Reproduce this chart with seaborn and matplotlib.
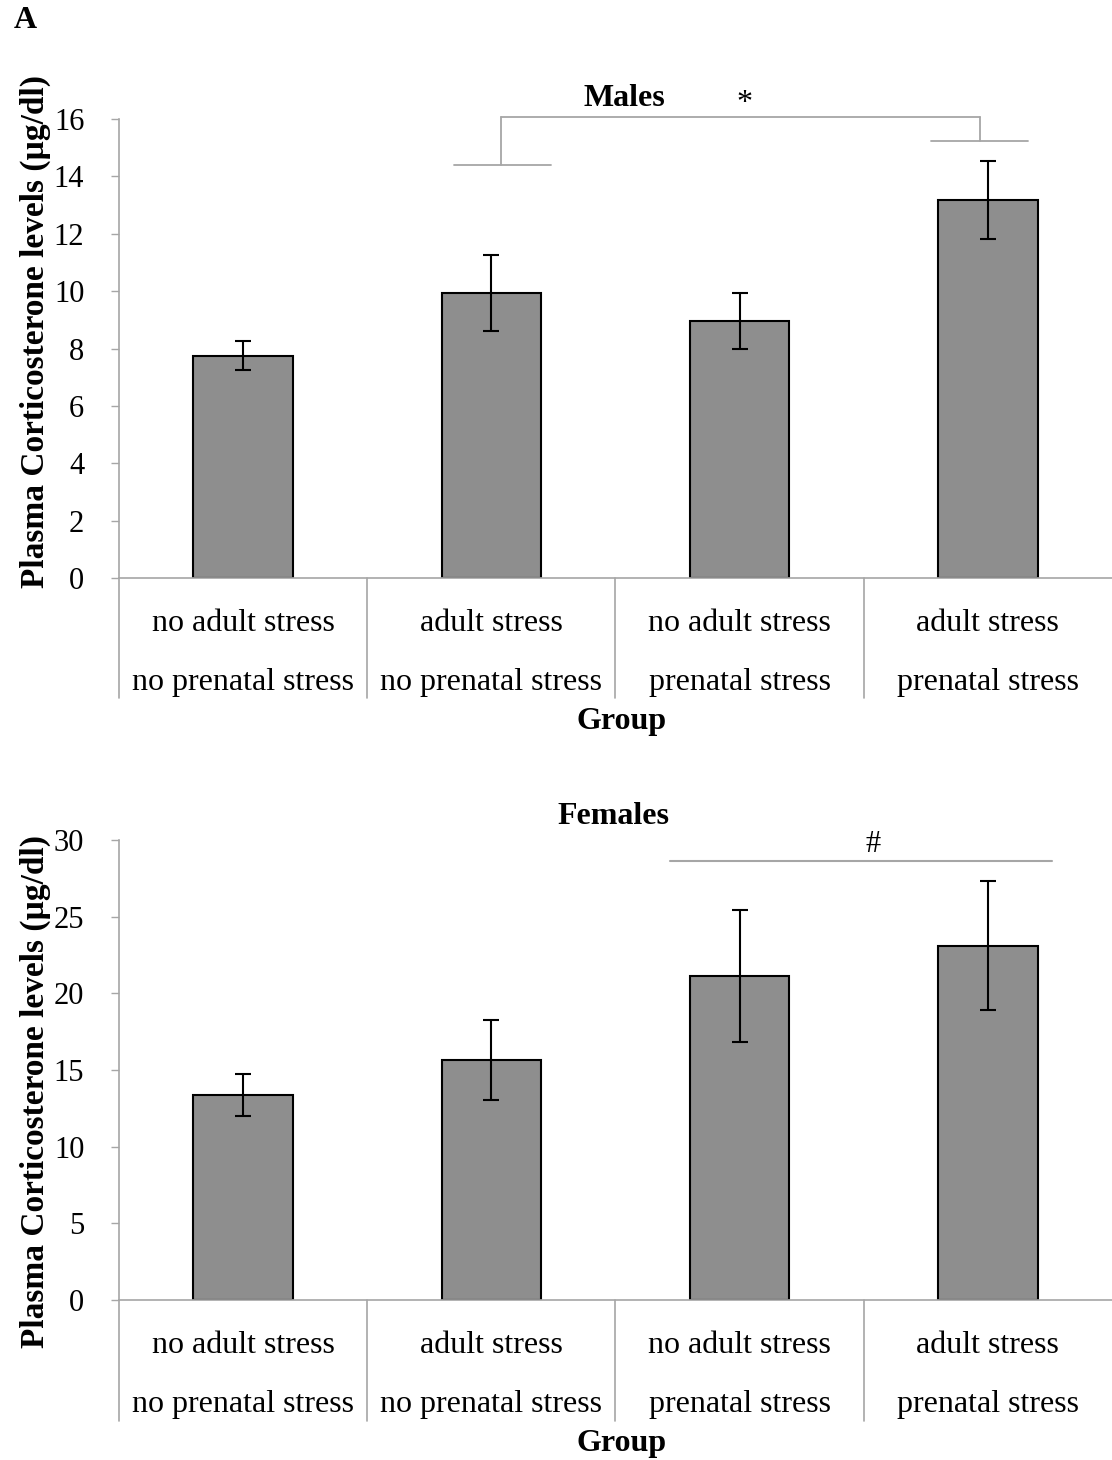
import matplotlib
matplotlib.use("Agg")
import matplotlib.pyplot as plt
import matplotlib.transforms as mtransforms
import seaborn as sns
import pandas as pd

# group labels (two rows under each bar)
adult = ["no adult stress", "adult stress", "no adult stress", "adult stress"]
prenatal = ["no prenatal stress", "no prenatal stress", "prenatal stress", "prenatal stress"]
groups = [a + "\n" + p for a, p in zip(adult, prenatal)]

# plasma corticosterone, mean and SEM
males_mean = [7.75, 9.93, 8.95, 13.18]
males_sem = [0.50, 1.33, 0.97, 1.37]
females_mean = [13.37, 15.65, 21.10, 23.10]
females_sem = [1.37, 2.60, 4.30, 4.20]

# significance marks
males_bracket = [14.4, 16.07, 15.23]   # left arm, top, right arm
females_line = 28.6

sns.set_theme(style="white")
plt.rcParams["font.family"] = ["Liberation Serif", "DejaVu Serif"]
plt.rcParams["text.color"] = "black"
plt.rcParams["axes.labelcolor"] = "black"

GRAY_AX = "#a6a6a6"
BAR = "#8e8e8e"


def draw_panel(ax, means, sems, ymax, ystep, ylab_y):
    df = pd.DataFrame({"group": groups, "value": means})
    sns.barplot(data=df, x="group", y="value", color=BAR, width=0.4,
                edgecolor="black", linewidth=1.5, saturation=1,
                errorbar=None, ax=ax)
    ax.errorbar(range(len(means)), means, yerr=sems, fmt="none",
                ecolor="black", elinewidth=1.5, capsize=5.6, capthick=1.5)
    ax.set_xlim(-0.5, 3.5)
    ax.set_ylim(0, ymax)
    ax.set_yticks(range(0, ymax + 1, ystep))
    ax.set_xticks(range(len(groups)))
    ax.set_xticklabels(groups, linespacing=2.4)
    ax.tick_params(axis="y", labelsize=22, direction="out", length=6,
                   width=1, color=GRAY_AX, labelcolor="black", pad=19, left=True)
    ax.tick_params(axis="x", labelsize=23, length=0, pad=22, labelcolor="black")
    for side in ["top", "right"]:
        ax.spines[side].set_visible(False)
    for side in ["left", "bottom"]:
        ax.spines[side].set_color(GRAY_AX)
        ax.spines[side].set_linewidth(1.2)
    # category separators below the axis
    trans = mtransforms.blended_transform_factory(ax.transData, ax.transAxes)
    for xs in [-0.5, 0.5, 1.5, 2.5]:
        ax.plot([xs, xs], [0, -0.262], color=GRAY_AX, lw=1.2,
                transform=trans, clip_on=False)
    ax.set_ylabel("Plasma Corticosterone levels (µg/dl)", fontsize=24,
                  fontweight="bold")
    ax.yaxis.set_label_coords(-0.0846, ylab_y)
    ax.yaxis.label.set_va("center")
    ax.set_xlabel("Group", fontsize=23, fontweight="bold")
    ax.xaxis.set_label_coords(0.506, -0.313)
    ax.xaxis.label.set_va("center")
    ax.grid(False)


fig = plt.figure(figsize=(11.12, 14.6), dpi=100)
ax1 = fig.add_axes([0.107, 0.6041, 0.893, 0.3144])
ax2 = fig.add_axes([0.107, 0.1096, 0.893, 0.3151])

draw_panel(ax1, males_mean, males_sem, 16, 2, 0.538)
draw_panel(ax2, females_mean, females_sem, 30, 5, 0.454)

# males bracket: group 2 vs group 4
lc = dict(color=GRAY_AX, lw=1.3, clip_on=False)
ax1.plot([0.85, 1.24], [males_bracket[0]] * 2, **lc)
ax1.plot([1.04, 1.04], [males_bracket[0], males_bracket[1]], **lc)
ax1.plot([1.04, 2.97], [males_bracket[1]] * 2, **lc)
ax1.plot([2.97, 2.97], [males_bracket[1], males_bracket[2]], **lc)
ax1.plot([2.77, 3.16], [males_bracket[2]] * 2, **lc)
ax1.text(1.536, 16.73, "Males", fontsize=23, fontweight="bold", ha="center", va="center")
ax1.text(2.018, 16.55, "*", fontsize=23, ha="center", va="center")

# females line: prenatal vs no prenatal
ax2.plot([1.72, 3.26], [females_line] * 2, color=GRAY_AX, lw=1.5, clip_on=False)
ax2.text(1.49, 31.5, "Females", fontsize=23, fontweight="bold", ha="center", va="center")
ax2.text(2.536, 29.68, "#", fontsize=22, ha="center", va="center")

fig.text(0.0225, 0.986, "A", fontsize=23, fontweight="bold", ha="center", va="center")

fig.savefig("out.png", dpi=100)
